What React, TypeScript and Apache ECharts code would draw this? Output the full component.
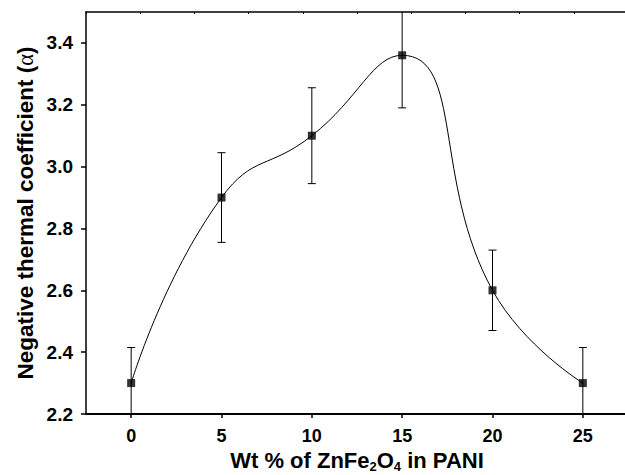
import React, { useEffect, useRef } from "react";
import * as echarts from "echarts";

const xValues = [0, 5, 10, 15, 20, 25];
const yValues = [2.3, 2.9, 3.1, 3.36, 2.6, 2.3];
const yErrors = [0.115, 0.145, 0.155, 0.17, 0.13, 0.115];
const xTickValues = [0, 5, 10, 15, 20, 25];
const yTickValues = [2.2, 2.4, 2.6, 2.8, 3.0, 3.2, 3.4];

const FONT = "'Liberation Sans', Arial, sans-serif";

export default function App() {
  const ref = useRef<HTMLDivElement>(null);
  useEffect(() => {
    if (!ref.current) return;
    const chart = echarts.init(ref.current, null, { renderer: "svg" });
    const points = xValues.map((x, i) => [x, yValues[i]]);
    const errData = xValues.map((x, i) => [x, yValues[i] - yErrors[i], yValues[i] + yErrors[i]]);
    chart.setOption({
      animation: false,
      grid: { left: 86, top: 12, width: 542, height: 402, containLabel: false, outerBoundsMode: "none" },
      xAxis: [
        {
          type: "value",
          min: -2.5,
          max: 27.5,
          position: "bottom",
          splitLine: { show: false },
          axisLine: { onZero: false, lineStyle: { color: "#000", width: 2 } },
          axisTick: { inside: false, length: 4, lineStyle: { color: "#000", width: 1.5 }, customValues: xTickValues },
          axisLabel: {
            customValues: xTickValues,
            color: "#000",
            fontFamily: FONT,
            fontWeight: "bold",
            fontSize: 18,
            margin: 13,
          },
          name: "{n|Wt % of ZnFe}{s|2}{n|O}{s|4}{n| in PANI}",
          nameLocation: "middle",
          nameGap: 35,
          nameMoveOverlap: false,
          nameTextStyle: {
            rich: {
              n: { fontFamily: FONT, fontWeight: "bold", fontSize: 22, color: "#000", lineHeight: 24, verticalAlign: "top" },
              s: { fontFamily: FONT, fontWeight: "bold", fontSize: 13, color: "#000", lineHeight: 13, verticalAlign: "bottom" },
            },
          },
        },
        {
          type: "value",
          min: 0,
          max: 30,
          interval: 3,
          position: "top",
          splitLine: { show: false },
          axisLine: { show: true, onZero: false, lineStyle: { color: "#000", width: 1.5 } },
          axisTick: { inside: true, length: 2, lineStyle: { color: "#000", width: 1 } },
          axisLabel: { show: false },
        },
      ],
      yAxis: {
        type: "value",
        min: 2.2,
        max: 3.5,
        position: "left",
        splitLine: { show: false },
        axisLine: { show: true, onZero: false, lineStyle: { color: "#000", width: 1.5 } },
        axisTick: { show: true, inside: false, length: 5, lineStyle: { color: "#000", width: 1.5 }, customValues: yTickValues },
        axisLabel: {
          customValues: yTickValues,
          formatter: (v: number) => v.toFixed(1),
          color: "#000",
          fontFamily: FONT,
          fontWeight: "bold",
          fontSize: 19,
          margin: 13,
        },
        name: "{n|Negative thermal coefficient (}{a|α}{n|)}",
        nameLocation: "middle",
        nameGap: 49,
        nameMoveOverlap: false,
        nameRotate: 90,
        nameTextStyle: {
          rich: {
            n: { fontFamily: FONT, fontWeight: "bold", fontSize: 22.5, color: "#000" },
            a: { fontFamily: "'Liberation Serif', serif", fontWeight: "normal", fontSize: 22.5, color: "#000" },
          },
        },
      },
      series: [
        {
          type: "line",
          data: points,
          smooth: true,
          symbol: "none",
          lineStyle: { color: "#000", width: 1 },
          z: 2,
        },
        {
          type: "custom",
          data: errData,
          clip: true,
          z: 3,
          renderItem: (params: any, api: any) => {
            const x = api.value(0);
            const lo = api.coord([x, api.value(1)]);
            const hi = api.coord([x, api.value(2)]);
            const cs = params.coordSys;
            const top = Math.max(hi[1], cs.y);
            const bot = Math.min(lo[1], cs.y + cs.height);
            const cap = 4;
            const children: any[] = [
              { type: "line", shape: { x1: lo[0], y1: top, x2: lo[0], y2: bot }, style: { stroke: "#000", lineWidth: 1 } },
            ];
            if (hi[1] >= cs.y) {
              children.push({ type: "line", shape: { x1: hi[0] - cap, y1: hi[1], x2: hi[0] + cap, y2: hi[1] }, style: { stroke: "#000", lineWidth: 1 } });
            }
            if (lo[1] <= cs.y + cs.height) {
              children.push({ type: "line", shape: { x1: lo[0] - cap, y1: lo[1], x2: lo[0] + cap, y2: lo[1] }, style: { stroke: "#000", lineWidth: 1 } });
            }
            return { type: "group", children };
          },
        },
        {
          type: "scatter",
          data: points,
          symbol: "rect",
          symbolSize: 8,
          itemStyle: { color: "#000" },
          z: 4,
        },
      ],
    });
    return () => chart.dispose();
  }, []);
  return <div ref={ref} style={{ width: 625, height: 475, position: "absolute", left: 0, top: 0 }} />;
}
